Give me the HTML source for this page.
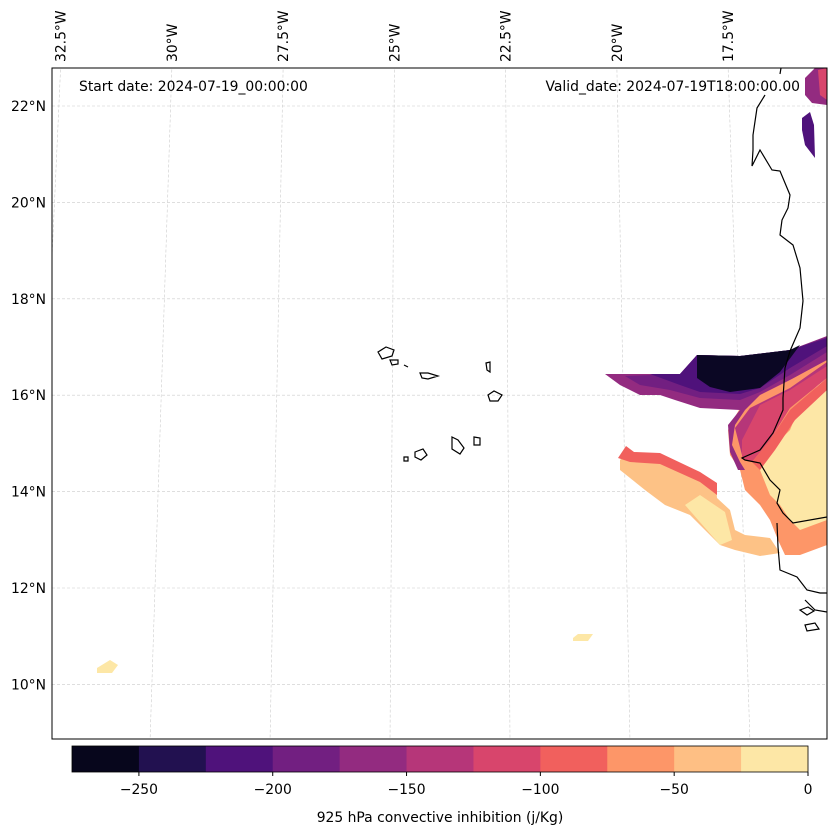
<!DOCTYPE html>
<html><head><meta charset="utf-8"><style>
body{margin:0;background:#fff;font-family:"DejaVu Sans",sans-serif}
svg text{font-family:"DejaVu Sans","Liberation Sans",sans-serif;font-size:13.9px;fill:#000}
</style></head><body>
<svg id="s" width="837" height="836" xmlns="http://www.w3.org/2000/svg">
<defs><clipPath id="c"><rect x="52" y="68" width="775" height="671"/></clipPath></defs>
<g id="grid" clip-path="url(#c)"></g>
<g clip-path="url(#c)">
<polygon fill="#fdc286" points="620,460 628,452 660,455 700,472 716,484 717,498 730,510 735,530 745,535 770,538 780,553 760,556 735,550 720,545 690,515 665,505 645,490 620,470"/>
<polygon fill="#f1605d" points="618,458 626,446 634,452 660,453 700,472 717,483 717,495 700,482 660,464 630,462"/>
<polygon fill="#fde7a6" points="685,505 700,495 725,512 732,540 720,545"/>
<polygon fill="#fd9668" points="733,420 745,400 790,380 827,355 827,545 800,555 785,555 778,540 770,520 760,505 745,490 740,470 730,455 728,430"/>
<polygon fill="#fde7a6" points="760,470 770,450 790,430 800,405 827,375 827,520 800,530 790,520 780,505 770,495"/>
<polygon fill="#932b80" points="605,374 680,374 697,355 740,356 790,350 827,336 827,360 790,380 760,395 745,410 735,425 732,445 740,462 745,470 738,470 730,452 728,425 740,410 700,408 675,400 660,395 640,395 620,385"/>
<polygon fill="#721f81" points="625,376 680,374 697,355 740,356 790,350 827,337 827,352 790,375 760,392 740,400 700,398 670,390 640,385"/>
<polygon fill="#4f127b" points="650,374 680,374 697,355 740,356 790,350 827,338 827,346 790,368 760,388 740,394 700,392 680,385"/>
<polygon fill="#0b0724" points="697,355 740,356 790,350 800,345 780,372 760,388 730,392 710,387 697,378"/>
<polygon fill="#b63679" points="735,428 750,408 790,388 827,362 827,372 792,398 772,425 755,455 742,455"/>
<polygon fill="#d8456c" points="742,440 760,405 790,390 827,366 827,378 790,408 770,440 752,462 742,458"/>
<polygon fill="#f1605d" points="752,462 770,440 790,410 827,378 827,390 795,420 775,450 760,470"/>
<polygon fill="#932b80" points="805,78 815,68 827,68 827,105 812,103 805,95"/>
<polygon fill="#d8456c" points="818,70 827,68 827,100 820,95"/>
<polygon fill="#4f127b" points="802,118 810,112 814,125 815,158 805,145 802,130"/>
<polygon fill="#fde7a6" points="97,668 110,660 118,665 112,673 97,673"/>
<polygon fill="#fde7a6" points="573,638 578,634 593,634 588,641 573,641"/>
</g>
<g clip-path="url(#c)" fill="none" stroke="#000" stroke-width="1.2">
<polyline points="781,68 780,74"/>
<polyline points="765,95 757,108 753,135 753,150 752,166 760,150 772,170 780,171 790,195 788,208 782,220 780,235 793,245 800,268 803,301 800,328 790,351 785,368 783,398 783,410 773,433 760,450 742,458 745,460 760,463 770,480 780,490 777,503 783,513 793,523 827,517"/>
<polyline points="777,523 778,547 780,570 797,577 807,590 820,593 827,593"/>
<polyline points="805,600 815,610 827,612"/>
<path d="M378,352 l8,-5 8,3 -2,6 -10,3z M390,360 l8,0 0,4 -6,1z M404,365 l4,2 M420,373 l8,0 10,3 -10,3 -6,-1z M486,363 l4,-1 0,10 -3,-2z M488,395 l6,-4 8,4 -4,6 -8,0z M452,437 l6,3 6,8 -4,6 -8,-5z M474,437 l6,1 0,7 -6,0z M415,452 l8,-3 4,6 -6,5 -6,-3z M404,457 l4,0 0,4 -4,0z M800,610 l8,-3 6,4 -7,4z M805,625 l10,-2 4,6 -12,2z"/>
</g>
<rect x="52" y="68" width="775" height="671" fill="none" stroke="#000" stroke-width="1"/>
<g id="labels"></g>
<text x="79" y="91">Start date: 2024-07-19_00:00:00</text>
<text x="800" y="91" text-anchor="end">Valid_date: 2024-07-19T18:00:00.00</text>
<g id="cbar"></g>
<text x="440" y="822" text-anchor="middle">925 hPa convective inhibition (j/Kg)</text>
</svg>
<script>
const lats=[22,20,18,16,14,12,10];
const lons=[32.5,30,27.5,25,22.5,20,17.5];
const levels=[-275,-250,-225,-200,-175,-150,-125,-100,-75,-50,-25,0];
const colors=["#07061c","#221150","#4f127b","#721f81","#932b80","#b63679","#d8456c","#f1605d","#fd9668","#febf84","#fde7a6"];
const cbTicks=[-250,-200,-150,-100,-50,0];
const NS="http://www.w3.org/2000/svg";
function latY(l){return 106+(22-l)*48.2;}
function lonX(w,l){const s=44.5+(22.8-l)*0.25;return 450+(23.75-w)*s;}
function mk(t,a,p){const e=document.createElementNS(NS,t);for(const k in a)e.setAttribute(k,a[k]);p.appendChild(e);return e;}
const g=document.getElementById('grid'),lb=document.getElementById('labels'),cb=document.getElementById('cbar');
lats.forEach(l=>{const y=latY(l);
 const ln=mk('line',{x1:52,y1:y,x2:827,y2:y,stroke:'#ccc','stroke-width':0.6,'stroke-dasharray':'3,2'},g);
 
 const t=mk('text',{x:46,y:y+5,'text-anchor':'end'},lb);t.textContent=l+'°N';
 });
lons.forEach(w=>{const ln=mk('line',{x1:lonX(w,24),y1:latY(24),x2:lonX(w,8),y2:latY(8),stroke:'#ccc','stroke-width':0.6,'stroke-dasharray':'3,2'},g);
 
 const x=lonX(w,22.8)+5;const t=mk('text',{x:x,y:62,transform:'rotate(-90 '+x+' 62)'},lb);t.textContent=w+'°W';
 });
const cx0=72,cx1=808;function cX(v){return cx0+(v-levels[0])/(levels[levels.length-1]-levels[0])*(cx1-cx0);}
colors.forEach((c,i)=>{const r=mk('rect',{x:cX(levels[i]),y:746,width:cX(levels[i+1])-cX(levels[i])+0.5,height:26,fill:c},cb);
 });
mk('rect',{x:cx0,y:746,width:cx1-cx0,height:26,fill:'none',stroke:'#000','stroke-width':0.8},cb);
cbTicks.forEach(v=>{const x=cX(v);mk('line',{x1:x,y1:772,x2:x,y2:776,stroke:'#000'},cb);
 const t=mk('text',{x:x,y:794,'text-anchor':'middle'},cb);t.textContent=v<0?'\u2212'+(-v):v;
 });
</script>
</body></html>
